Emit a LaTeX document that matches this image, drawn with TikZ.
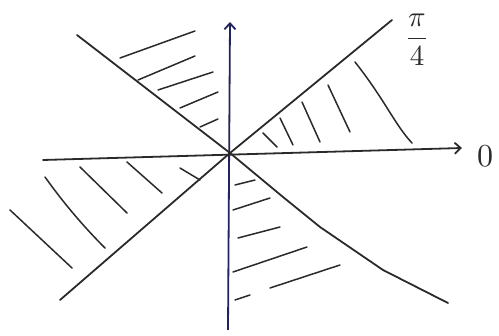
\documentclass[tikz,border=0pt]{standalone}
\usepackage{amsmath}
\usepackage{tikz}
\usetikzlibrary{arrows.meta}
\definecolor{ink}{HTML}{2A2A2A}
\definecolor{axisblue}{HTML}{22225E}

\begin{document}
\begin{tikzpicture}[x=1pt,y=-1pt,
  pen/.style={ink,line width=1.8pt,line cap=round,line join=round},
  yax/.style={axisblue,line width=1.8pt,-{Straight Barb[length=6pt,width=11pt]}},
  xax/.style={pen,-{Straight Barb[length=6pt,width=11pt]}},
  hatch/.style={ink,line width=1.5pt,line cap=round},
  lbl/.style={ink,inner sep=0pt}]
  \useasboundingbox (0,0) rectangle (499,336);
  \coordinate (O) at (230,153);
  \coordinate (xs) at (43,160);   \coordinate (xe) at (462,148);
  \coordinate (ys) at (228,330);  \coordinate (ye) at (230,22);
  \coordinate (pa) at (60,300);   \coordinate (pb) at (392,20);
  \coordinate (ma) at (77,35);    \coordinate (mb) at (448,303);
  % axes
  \draw[xax] (xs) -- (xe);
  \draw[yax] (ys) -- (ye);
  % the two diagonals
  \draw[pen] (pa) -- (O) -- (pb);
  \draw[pen] (ma) -- (O) -- (283,197) -- (320,227) -- (383,270) -- (mb);
  \node[lbl,scale=2.9] (pi4) at (417,40) {$\dfrac{\pi}{4}$};
  \node[lbl,scale=3.2] (zero) at (485,156) {$0$};
  % hatching
  \foreach \p/\q in {{(120,58)}/{(195,31)},{(138,80)}/{(195,56)},{(158,90)}/{(213,72)},
                     {(180,108)}/{(218,92)},{(200,127)}/{(218,119)},
                     {(263,133)}/{(277,147)},{(280,118)}/{(293,145)},{(302,102)}/{(320,142)},
                     {(328,85)}/{(350,132)},
                     {(10,210)}/{(72,268)},{(80,167)}/{(127,213)},
                     {(127,162)}/{(162,193)},{(180,168)}/{(200,180)},
                     {(235,185)}/{(255,180)},{(233,210)}/{(270,198)},{(238,238)}/{(280,227)},
                     {(233,272)}/{(307,247)},{(270,288)}/{(340,265)},{(235,300)}/{(250,295)}}
    \draw[hatch] \p -- \q;
  \draw[hatch] (355,62) .. controls (385,100) and (395,125) .. (412,143);
  \draw[hatch] (45,177) .. controls (65,205) and (85,228) .. (105,248);
\end{tikzpicture}
\end{document}
